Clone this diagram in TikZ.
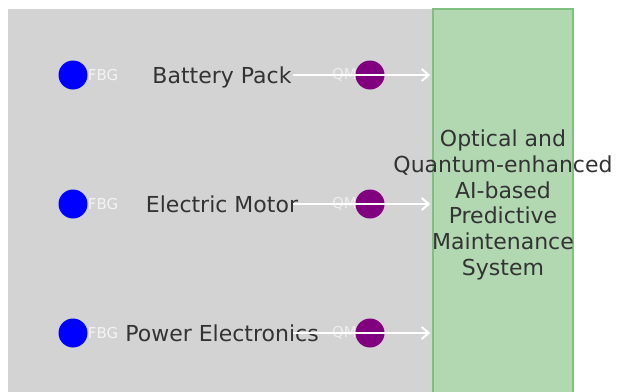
\documentclass[tikz,border=0pt]{standalone}
\usepackage{fontspec}
\setmainfont{DejaVu Sans}
\usetikzlibrary{arrows.meta,positioning}
\definecolor{panelcol}{HTML}{D3D3D3}
\definecolor{syscol}{HTML}{B2D8B2}
\definecolor{sysedge}{HTML}{7FBF7F}
\definecolor{fbgcol}{HTML}{0000FF}
\definecolor{qmcol}{HTML}{800080}
\definecolor{txtcol}{HTML}{333333}
\tikzset{
  sensor/.style={circle,inner sep=0pt,minimum size=29pt},
  tag/.style={text=white,font=\fontsize{15}{18}\selectfont,inner sep=0pt},
  comp/.style={text=txtcol,font=\fontsize{22}{25.8}\selectfont,inner sep=0pt},
  sysbox/.style={draw=sysedge,fill=syscol,line width=1.5pt,minimum width=140pt,minimum height=390pt,inner sep=0pt},
  link/.style={draw=white,line width=2pt,shorten >=2pt,-{Straight Barb[length=7pt,width=12pt,line width=2pt]}},
}
\begin{document}
\begin{tikzpicture}[x=1pt,y=-1pt]
  \useasboundingbox (0,0) rectangle (621,391);
  \clip (0,0) rectangle (621,391);
  \fill[panelcol] (8,9) rectangle (433,400);
  \node[sysbox] (sys) at (503,204) {};
  \node[comp,align=center] (systxt) at ([yshift=-1pt]sys.center) {Optical and\\Quantum-enhanced\\AI-based\\Predictive\\Maintenance\\System};
  \foreach \y/\n/\l in {75/1/Battery Pack,204/2/Electric Motor,333/3/Power Electronics} {
    \node[tag,text opacity=0.6,anchor=east] (qmtag\n) at (357,\y) {QM};
    \node[sensor,fill=qmcol] (qm\n) at (370,\y) {};
    \node[sensor,fill=fbgcol] (fbg\n) at (73,\y) {};
    \node[tag,text opacity=0.75,anchor=west] (fbgtag\n) at (fbg\n.east) {FBG};
    \node[comp,anchor=base] (comp\n) at (222,\y+8) {\l};
    \coordinate (src\n) at (293,\y);
    \draw[link] (src\n) -- (src\n -| sys.west);
  }
\end{tikzpicture}
\end{document}
